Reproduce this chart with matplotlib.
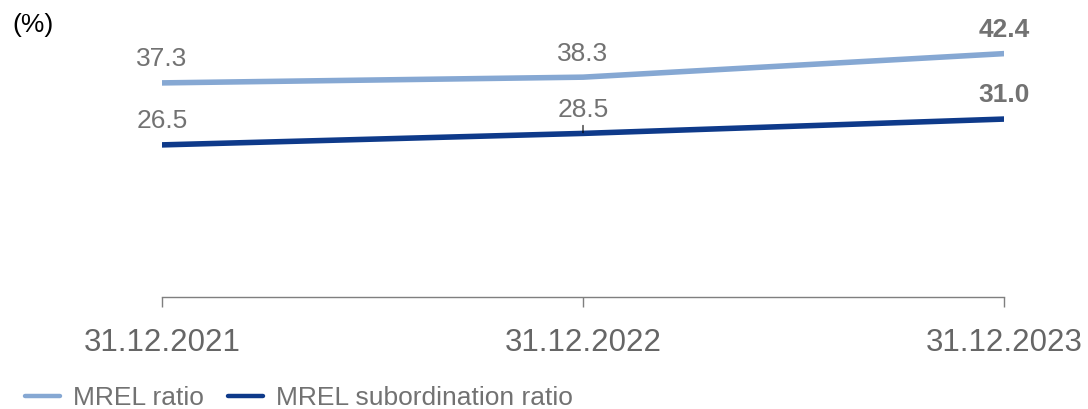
import matplotlib
matplotlib.use("Agg")
import matplotlib.pyplot as plt

categories = ["31.12.2021", "31.12.2022", "31.12.2023"]
mrel_ratio = [37.3, 38.3, 42.4]
mrel_sub_ratio = [26.5, 28.5, 31.0]
series_names = ["MREL ratio", "MREL subordination ratio"]

plt.rcParams['font.family'] = ['Liberation Sans', 'DejaVu Sans']

LIGHT = "#86A8D3"
DARK = "#0E3A8A"
LABEL_GRAY = "#727272"
TICK_GRAY = "#666666"

fig = plt.figure(figsize=(10.88, 4.09), dpi=100)
ax = fig.add_axes([162/1088, 1-297/409, (1004-162)/1088, (297-10)/409])

x = list(range(len(categories)))
ax.plot(x, mrel_ratio, color=LIGHT, lw=4.0, solid_capstyle='round', label=series_names[0])
ax.plot(x, mrel_sub_ratio, color=DARK, lw=4.0, solid_capstyle='round', label=series_names[1])

for i, (a, b) in enumerate(zip(mrel_ratio, mrel_sub_ratio)):
    bold = (i == len(categories) - 1)
    for v in (a, b):
        ax.annotate(f"{v:.1f}", (i, v), xytext=(0, 17), textcoords='offset points',
                    ha='center', va='center', fontsize=19, color=LABEL_GRAY,
                    fontweight='bold' if bold else 'normal', annotation_clip=False)

# small leader line at middle subordination label
ax.annotate("", (1, mrel_sub_ratio[1]), xytext=(1, mrel_sub_ratio[1] + 1.4),
            arrowprops=dict(arrowstyle='-', color='black', lw=0.8, shrinkA=0, shrinkB=0.5))

ax.set_xlim(0, 2)
ax.set_ylim(0, 50)
ax.set_xticks(x)
ax.set_xticklabels(categories, fontsize=22.5, color=TICK_GRAY)
ax.tick_params(axis='x', length=7, width=1, color='#7f7f7f', direction='out', pad=15)
ax.set_yticks([])
for s in ['top', 'right', 'left']:
    ax.spines[s].set_visible(False)
ax.spines['bottom'].set_color('#7f7f7f')
ax.spines['bottom'].set_linewidth(1)

fig.text(12/1088, 1-25/409, "(%)", fontsize=19, color='black', va='center', ha='left')

leg = fig.legend(loc='center left', bbox_to_anchor=(25/1088, 1-398/409), ncol=2, frameon=False,
                 fontsize=19, handlelength=1.33, handletextpad=0.5, columnspacing=0.9,
                 labelcolor=LABEL_GRAY, borderpad=0, borderaxespad=0)
for h in leg.get_lines():
    h.set_linewidth(3.2)

fig.savefig("out.png", dpi=100)
